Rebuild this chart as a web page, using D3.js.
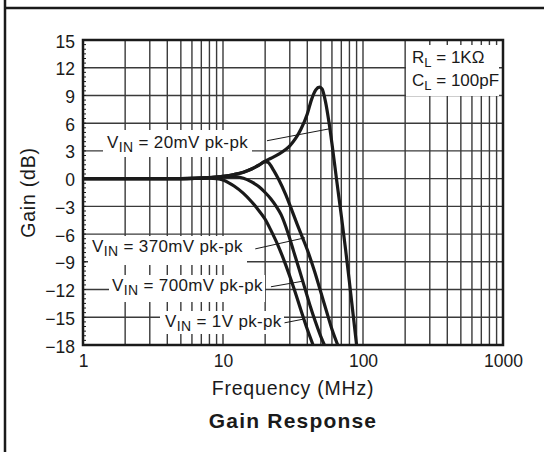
<!DOCTYPE html>
<html><head><meta charset="utf-8">
<script src="https://cdn.jsdelivr.net/npm/d3@7"></script>
<style>body{margin:0;background:#fff}svg{display:block}text{font-family:"Liberation Sans",Arial,sans-serif;fill:#1a1a1a}</style>
</head><body><svg id="c" width="544" height="452"></svg>
<script>
// ---- data ----
const yTicks = [15,12,9,6,3,0,-3,-6,-9,-12,-15,-18];
const xTickLabels = [1,10,100,1000];
const xGrid = [2,3,4,5,6,7,8,9,20,30,40,50,60,70,80,90,200,300,400,500,600,700,800,900];

const f20mV = [1,5,8,10,12,14,16,18,20,22,25,28,30,33,36,40,43,46,49,51,54,57,60,65,70,75,80,85,90];
const g20mV = [0,0,0.1,0.25,0.45,0.7,1.05,1.45,1.9,2.2,2.65,3.15,3.55,4.35,5.35,7.0,8.6,9.6,9.9,9.7,8.3,6.2,3.8,-0.3,-4,-7.6,-11.2,-14.7,-18];

const f370mV = [1,5,8,10,12,14,16,18,20,21,23,25,28,31,34,37,40,45,50,55,60,66];
const g370mV = [0,0,0.1,0.25,0.45,0.7,1.05,1.45,1.85,1.75,0.9,-0.1,-1.7,-3.4,-5,-6.4,-7.7,-10,-12.3,-14.4,-16.3,-18];

const f700mV = [1,5,8,10,12,14,16,18,20,22,24,26,29,32,35,38.5,42,46,50,53];
const g700mV = [0,0,0.1,0.2,0.2,0.05,-0.35,-0.85,-1.5,-2.2,-3,-3.9,-5.8,-7.9,-9.8,-11.9,-13.8,-15.6,-17.1,-18];

const f1V = [1,5,8,9,10,11,12,14,16,17.5,20,22,25,28,32,36,40,44];
const g1V = [0,0,0.05,0,-0.15,-0.45,-0.8,-1.6,-2.5,-3.2,-4.4,-5.6,-7.4,-9.3,-11.8,-14.2,-16.3,-18];

const seriesVin = ["20mV","370mV","700mV","1V"];
const leaderF = [[20.6,58],[17,38.5],[22,37],[27.5,37.5]];
const leaderG = [[4.1,5.4],[-7.6,-6.4],[-11.7,-11.1],[-15.6,-15.2]];

// ---- layout ----
const svg = d3.select("#c");
const L = 83, R = 503, T = 40, B = 345;
const x = d3.scaleLog().domain([1,1000]).range([L,R]);
const y = d3.scaleLinear().domain([-18,15]).range([B,T]);
const ink = "#1a1a1a";

// frame
svg.append("line").attr("x1",5).attr("x2",5).attr("y1",0).attr("y2",452).attr("stroke",ink).attr("stroke-width",2.5);
svg.append("line").attr("x1",5).attr("x2",544).attr("y1",8).attr("y2",8).attr("stroke",ink).attr("stroke-width",2.5);

const g = svg.append("g");
// grid
g.selectAll(".vg").data(xGrid.concat([10,100])).join("line").attr("x1",d=>x(d)).attr("x2",d=>x(d)).attr("y1",T).attr("y2",B)
 .attr("stroke","#3a3a3a").attr("stroke-width",1.4);
g.selectAll(".hg").data(yTicks).join("line").attr("x1",L).attr("x2",R).attr("y1",d=>y(d)).attr("y2",d=>y(d))
 .attr("stroke","#3a3a3a").attr("stroke-width",1.4);
// minor ticks on left edge
g.selectAll(".mt").data(d3.range(-18,15,0.5)).join("line").attr("x1",L).attr("x2",L+3).attr("y1",d=>y(d)).attr("y2",d=>y(d))
 .attr("stroke",ink).attr("stroke-width",1);

// annotation boxes & text
function vinLabel(xp, yp, val){
  const t = svg.append("text").attr("x",xp).attr("y",yp).attr("font-size",17).attr("letter-spacing",0.35);
  t.append("tspan").text("V");
  t.append("tspan").attr("dy",4).attr("font-size",14).text("IN");
  t.append("tspan").attr("dy",-4).text(" = "+val+" pk-pk");
  return t;
}
const labelPos = [[107,148],[92,252],[112,291],[165,327]];
const boxes = [[103,130,252,157],[88,236,247,265],[109,275,265,302],[160,311,284,334]];
const annG = svg.append("g");
boxes.forEach(b=>annG.append("rect").attr("x",b[0]).attr("y",b[1]).attr("width",b[2]-b[0]).attr("height",b[3]-b[1]).attr("fill","#fff"));
annG.append("rect").attr("x",406).attr("y",45).attr("width",93).attr("height",51).attr("fill","#fff");

// leaders
seriesVin.forEach((v,i)=>{
  svg.append("line").attr("x1",x(leaderF[i][0])).attr("y1",y(leaderG[i][0])).attr("x2",x(leaderF[i][1])).attr("y2",y(leaderG[i][1]))
   .attr("stroke",ink).attr("stroke-width",1);
});

// curves
const line = d3.line().x(d=>x(d[0])).y(d=>y(d[1])).curve(d3.curveMonotoneX);
svg.append("clipPath").attr("id","cp").append("rect").attr("x",L).attr("y",T).attr("width",R-L).attr("height",B-T);
const cg = svg.append("g").attr("clip-path","url(#cp)");
[[f1V,g1V],[f700mV,g700mV],[f370mV,g370mV],[f20mV,g20mV]].forEach(([f,gg])=>{
  cg.append("path").attr("d",line(f.map((d,i)=>[d,gg[i]]))).attr("fill","none").attr("stroke",ink).attr("stroke-width",3.2);
});

seriesVin.forEach((v,i)=>vinLabel(labelPos[i][0],labelPos[i][1],v));

// RL / CL
const rl = svg.append("text").attr("x",412).attr("y",63).attr("font-size",17);
rl.append("tspan").text("R"); rl.append("tspan").attr("dy",4).attr("font-size",13).text("L");
rl.append("tspan").attr("dy",-4).text(" = 1KΩ");
const cl = svg.append("text").attr("x",412).attr("y",86).attr("font-size",17);
cl.append("tspan").text("C"); cl.append("tspan").attr("dy",4).attr("font-size",13).text("L");
cl.append("tspan").attr("dy",-4).text(" = 100pF");

// border
svg.append("rect").attr("x",L).attr("y",T).attr("width",R-L).attr("height",B-T).attr("fill","none").attr("stroke",ink).attr("stroke-width",2.5);

// axes labels via d3 axes
const ya = svg.append("g").attr("transform",`translate(${L-5},0)`).call(d3.axisLeft(y).tickValues(yTicks).tickSize(0).tickFormat(d3.format("d")));
ya.select(".domain").remove();
ya.selectAll("text").attr("font-size",17.5).attr("fill",ink).attr("font-family","Liberation Sans, Arial, sans-serif").attr("dy","0.4em");
const xa = svg.append("g").attr("transform",`translate(0,${B+7})`).call(d3.axisBottom(x).tickValues(xTickLabels).tickSize(0).tickFormat(d3.format("d")));
xa.select(".domain").remove();
xa.selectAll("text").attr("font-size",17.5).attr("fill",ink).attr("font-family","Liberation Sans, Arial, sans-serif");

svg.append("text").attr("x",(L+R)/2).attr("y",395).attr("text-anchor","middle").attr("font-size",19.5).attr("letter-spacing",0.8).text("Frequency (MHz)");
svg.append("text").attr("x",(L+R)/2).attr("y",428).attr("text-anchor","middle").attr("font-size",21).attr("font-weight","bold").attr("letter-spacing",1.2).text("Gain Response");
svg.append("text").attr("transform",`translate(35,${(T+B)/2}) rotate(-90)`).attr("text-anchor","middle").attr("font-size",19.5).attr("letter-spacing",0.8).text("Gain (dB)");
</script></body></html>
